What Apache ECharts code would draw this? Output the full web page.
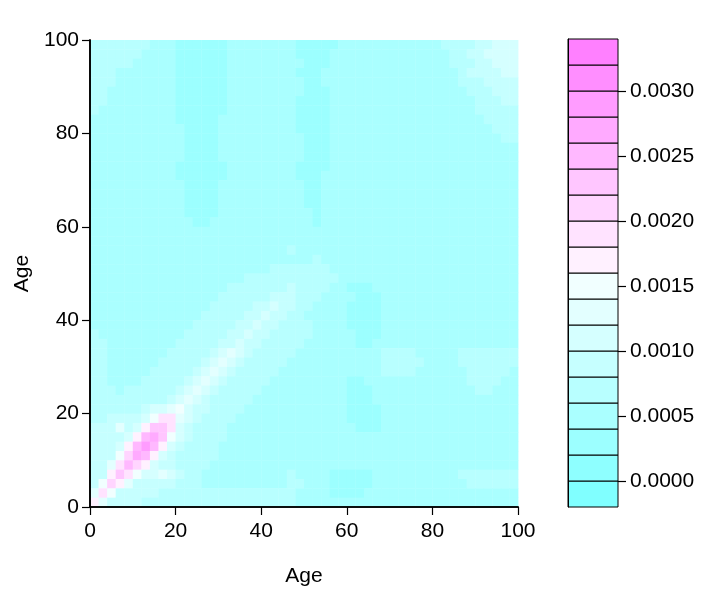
<!DOCTYPE html>
<html><head><meta charset="utf-8">
<script src="https://cdn.jsdelivr.net/npm/echarts@6/dist/echarts.min.js"></script>
<style>html,body{margin:0;padding:0;background:#fff}#chart{width:709px;height:590px}</style>
</head><body><div id="chart"></div>
<script>
// Age bands (lower edge, years) and width
const ageBandStarts = [0,2,4,6,8,10,12,14,16,18,20,22,24,26,28,30,32,34,36,38,40,42,44,46,48,50,52,54,56,58,60,62,64,66,68,70,72,74,76,78,80,82,84,86,88,90,92,94,96,98];
const ageBandWidth = 2;
// Contact values in units of 1e-5, rows listed from the oldest band (98-100) at top down to band 0-2
const valueUnit = 1e-5;
const contactRowsTopDown = [
[60,60,60,60,60,60,60,45,45,45, 38,38,35,35,35,35,45,45,45,45, 45,45,45,45,38,38,38,38,38,45, 45,45,45,45,45,45,45,45,50,50, 50,62,75,75,75,95,95,115,115,115],
[60,60,60,60,60,60,55,45,45,45, 38,35,35,35,35,35,45,45,45,45, 45,45,45,45,38,38,38,38,45,45, 45,45,45,45,45,45,45,45,45,48, 50,58,70,70,85,85,100,110,110,110],
[62,62,62,60,60,55,50,45,45,45, 35,35,35,35,35,38,45,45,45,45, 45,45,45,45,40,38,38,38,45,45, 45,45,45,45,45,45,45,45,45,45, 48,52,62,75,75,90,90,105,105,108],
[62,62,60,58,55,50,45,45,45,45, 38,35,35,35,35,38,45,45,45,45, 45,45,45,45,38,38,38,40,45,45, 45,45,45,45,45,45,45,45,45,45, 45,48,55,65,80,80,92,92,100,100],
[62,62,60,55,50,45,45,45,45,45, 38,35,35,35,35,38,45,45,45,45, 45,45,45,45,45,38,38,45,45,45, 45,45,45,45,45,45,45,45,45,45, 45,45,50,60,72,72,88,88,95,95],
[62,60,58,52,45,45,45,45,45,45, 38,35,35,35,35,38,45,45,45,45, 45,45,45,45,45,38,38,38,45,45, 45,45,45,45,45,45,45,45,45,45, 45,45,48,55,65,78,78,85,85,85],
[60,60,55,50,45,45,45,45,45,45, 38,35,35,35,35,38,45,45,45,45, 45,45,45,45,38,38,38,38,45,45, 45,45,45,45,45,45,45,45,45,45, 45,45,45,50,58,66,72,72,80,80],
[60,58,55,48,45,45,45,45,45,45, 38,35,35,35,35,38,45,45,45,45, 45,45,45,45,38,38,35,38,45,45, 45,45,45,45,45,45,45,45,45,45, 45,45,45,48,52,62,68,68,68,75],
[58,55,52,48,45,45,45,45,45,45, 38,35,35,35,35,40,45,45,45,45, 45,45,45,45,38,35,35,38,45,45, 45,45,45,45,45,45,45,45,45,45, 45,45,45,45,48,55,65,65,65,65],
[55,55,50,45,45,45,45,45,45,45, 40,35,35,35,35,40,45,45,45,45, 45,45,45,45,38,35,35,38,45,45, 45,45,45,45,45,45,45,45,45,45, 45,45,45,45,45,50,55,62,62,62],
[55,55,50,45,45,45,45,45,45,45, 40,35,35,35,35,40,45,45,45,45, 45,45,45,45,40,35,35,38,45,45, 45,45,45,45,45,45,45,45,45,45, 45,45,45,45,45,45,50,55,60,62],
[55,55,50,45,45,45,45,45,45,45, 40,35,35,35,35,40,45,45,45,45, 45,45,45,45,40,35,35,38,45,45, 45,45,45,45,45,45,45,45,45,45, 45,45,45,45,45,45,45,50,55,58],
[55,55,50,45,45,45,45,45,45,45, 40,35,35,35,35,40,45,45,45,45, 45,45,45,45,40,35,35,38,45,45, 45,45,45,45,45,45,45,45,45,45, 45,45,45,45,45,45,45,45,50,52],
[58,55,50,45,45,45,45,45,45,45, 38,35,35,35,35,38,45,45,45,45, 45,45,45,45,38,35,35,38,45,45, 45,45,45,45,45,45,45,45,45,45, 45,45,45,45,45,45,45,45,45,45],
[58,55,50,45,45,45,45,45,45,45, 38,35,35,35,35,38,45,45,45,45, 45,45,45,45,38,35,35,40,45,45, 45,45,45,45,45,45,45,45,45,45, 45,45,45,45,45,45,45,45,45,45],
[55,55,50,45,45,45,45,45,45,45, 40,35,35,35,35,40,45,45,45,45, 45,45,45,45,40,35,35,40,45,45, 45,45,45,45,45,45,45,45,45,45, 45,45,45,45,45,45,45,45,45,45],
[55,52,48,45,45,45,45,45,45,45, 40,35,35,35,35,40,45,45,45,45, 45,45,45,45,40,35,35,40,45,45, 45,45,45,45,45,45,45,45,45,45, 45,45,45,45,45,45,45,45,48,50],
[55,52,48,45,45,45,45,45,45,45, 40,35,35,35,38,40,45,45,45,45, 45,45,45,45,40,38,38,40,45,45, 45,45,45,45,45,45,45,45,45,45, 45,45,45,45,45,45,45,48,50,55],
[52,50,48,45,45,45,45,45,45,45, 40,38,35,35,38,40,45,45,45,45, 45,45,45,45,45,40,38,40,45,45, 45,45,45,45,45,45,45,45,45,45, 45,45,45,45,45,45,45,48,52,55],
[52,50,48,45,45,45,45,45,45,45, 42,40,38,38,40,42,45,45,45,45, 45,45,45,45,45,40,38,40,45,45, 45,45,45,45,45,45,45,45,45,45, 45,45,45,45,45,45,45,45,50,52],
[50,50,48,45,45,45,45,45,45,45, 45,45,45,45,45,45,45,45,45,45, 45,45,45,50,50,48,48,45,45,45, 45,45,45,45,45,45,45,45,45,45, 45,45,45,45,45,45,45,45,45,48],
[50,48,45,45,45,45,45,45,45,45, 45,45,45,45,45,45,45,45,45,45, 45,45,48,50,52,52,52,50,50,45, 45,45,45,45,45,45,45,45,45,45, 45,45,45,45,45,45,45,45,45,45],
[50,48,45,45,45,45,45,45,45,45, 45,45,45,45,45,45,45,45,48,50, 52,55,58,60,52,55,52,55,50,45, 45,45,45,45,45,45,45,45,45,45, 45,45,45,45,45,45,45,45,45,45],
[50,48,45,45,45,45,45,45,45,45, 45,45,45,45,45,45,45,45,45,50, 52,55,55,55,58,56,60,56,55,45, 45,45,45,45,45,45,45,45,45,45, 45,45,45,45,45,45,45,45,45,45],
[50,48,45,45,45,45,45,45,45,45, 45,45,45,45,45,45,45,45,52,55, 58,60,62,65,62,68,62,60,58,50, 45,45,45,45,45,45,45,45,45,45, 45,45,45,45,45,45,45,45,45,45],
[50,48,45,45,45,45,45,45,45,45, 45,45,45,45,45,45,55,58,60,62, 60,62,65,68,75,68,65,62,60,52, 45,45,45,45,45,45,45,45,45,45, 45,45,45,45,45,45,45,45,45,45],
[50,48,45,45,45,45,45,45,45,45, 45,45,45,45,45,55,60,62,62,60, 68,72,75,85,75,72,68,60,55,50, 38,38,38,45,45,45,45,45,45,45, 45,45,45,45,45,45,45,45,45,45],
[52,52,52,45,45,45,45,45,45,45, 45,45,45,45,55,62,62,62,65,68, 72,80,92,80,72,68,65,55,50,45, 45,38,38,38,45,45,45,45,45,45, 45,45,45,45,45,45,45,45,45,45],
[55,55,52,45,45,45,45,45,45,45, 45,45,45,55,62,62,62,65,68,80, 85,100,85,80,68,65,55,50,45,45, 38,38,38,38,45,45,45,45,45,45, 45,45,45,45,45,45,45,45,45,45],
[58,58,55,45,45,45,45,45,45,45, 45,45,55,62,62,62,65,75,80,88, 105,88,80,75,65,58,55,50,45,45, 38,38,38,38,45,45,45,45,45,45, 45,45,45,45,45,45,45,45,45,45],
[58,58,55,45,45,45,45,45,45,45, 45,55,62,62,62,65,75,80,92,108, 92,80,75,65,62,60,58,50,45,45, 38,38,38,38,45,45,45,45,45,45, 45,45,45,45,45,45,45,45,45,45],
[60,58,55,45,45,45,45,45,45,45, 55,62,62,62,65,75,88,95,112,95, 88,75,65,62,62,62,55,45,45,45, 45,38,38,38,45,45,45,45,45,45, 45,45,45,45,45,45,45,45,45,45],
[62,60,55,45,45,45,45,45,45,55, 62,62,62,65,75,88,98,115,98,88, 75,65,62,62,62,55,45,45,45,45, 45,38,38,45,45,45,45,45,45,45, 45,45,45,45,45,45,45,45,45,45],
[62,62,58,45,45,45,45,45,55,62, 62,62,65,75,88,102,122,102,88,75, 65,62,62,62,55,45,45,45,45,45, 45,45,45,45,62,62,62,62,45,45, 45,45,45,62,62,62,62,62,62,62],
[62,62,58,45,45,45,45,55,62,62, 62,65,75,88,105,125,105,88,75,65, 62,62,62,55,45,45,45,45,45,45, 45,45,45,45,62,62,62,62,62,45, 45,45,45,62,62,62,62,62,62,62],
[62,62,58,50,45,45,55,62,62,62, 65,75,88,105,125,105,88,75,65,62, 62,62,55,45,45,45,45,45,45,45, 45,45,45,45,62,62,62,62,45,45, 45,45,45,45,62,62,62,62,62,45],
[62,62,58,52,50,55,62,62,62,65, 75,88,108,128,108,88,75,65,62,62, 62,55,45,45,45,45,45,45,45,45, 38,38,45,45,45,45,45,45,45,45, 45,45,45,45,62,62,62,62,45,45],
[62,62,60,55,62,62,62,62,65,75, 88,110,128,110,88,75,65,62,62,62, 55,45,45,45,45,45,45,45,45,45, 38,38,38,45,45,45,45,45,45,45, 45,45,45,45,45,62,62,45,45,45],
[65,65,65,62,62,62,62,65,75,88, 115,132,110,88,75,65,62,62,62,55, 45,45,45,45,45,45,45,45,45,45, 38,38,38,45,45,45,45,45,45,45, 45,45,45,45,45,45,45,45,45,45],
[68,68,68,68,70,75,85,100,115,130, 140,115,95,80,65,62,62,62,55,45, 45,45,45,45,45,45,45,45,45,45, 38,38,38,38,45,45,45,45,45,45, 45,45,45,45,45,45,45,45,45,45],
[75,75,80,90,85,90,115,140,180,185, 130,100,90,75,62,62,62,55,45,45, 45,45,45,45,45,45,45,45,45,45, 38,38,38,38,45,45,45,45,45,45, 45,45,45,45,45,45,45,45,45,45],
[80,85,95,125,95,115,160,225,235,180, 115,90,75,62,62,62,55,45,45,45, 45,45,45,45,45,45,45,45,45,45, 45,38,38,38,45,45,45,45,45,45, 45,45,45,45,45,45,45,45,45,45],
[80,85,95,95,115,165,245,270,225,140, 100,80,70,62,62,60,55,45,45,45, 45,45,45,45,45,45,45,45,45,45, 45,45,45,45,45,45,45,45,45,45, 45,45,45,45,45,45,45,45,45,45],
[80,85,90,115,160,240,285,245,160,115, 85,75,65,62,62,58,45,45,45,45, 45,45,45,45,45,45,45,45,45,45, 45,45,45,45,45,45,45,45,45,45, 45,45,45,45,45,45,45,45,45,45],
[80,85,95,140,215,265,240,165,115,90, 75,65,60,62,60,55,45,45,45,45, 45,45,45,45,45,45,45,45,45,45, 45,45,45,45,45,45,45,45,45,45, 45,45,45,45,45,45,45,45,45,45],
[85,95,120,195,245,215,160,115,95,85, 75,68,60,60,55,45,45,45,45,45, 45,45,45,45,45,45,45,45,45,45, 45,45,45,45,45,45,45,45,45,45, 45,45,45,45,45,45,45,45,45,45],
[90,95,175,230,195,140,115,100,125,100, 80,68,60,55,45,45,45,45,45,45, 45,45,45,62,45,45,45,45,35,35, 35,35,35,45,45,45,45,45,45,45, 45,45,45,62,62,62,62,62,62,62],
[95,150,215,175,120,95,90,85,95,85, 75,68,60,55,55,55,50,50,45,45, 45,45,45,62,62,45,45,45,35,35, 35,35,35,45,45,45,45,45,45,45, 45,45,45,45,62,62,62,62,62,62],
[120,190,150,95,85,80,80,80,78,75, 72,70,65,65,65,65,65,65,65,65, 62,62,62,62,55,45,45,45,38,38, 38,38,45,45,45,45,45,45,45,45, 45,45,45,45,45,55,55,55,55,55],
[160,120,95,85,80,80,78,78,75,75, 72,72,68,68,68,68,68,65,65,65, 62,62,62,62,55,50,45,45,45,45, 45,45,45,45,45,45,45,45,45,45, 45,45,45,45,50,50,50,50,50,50]
];
// Colour levels (same 1e-5 units) and their colours
const levelEdges = [-20,0,20,40,60,80,100,120,140,160,180,200,220,240,260,280,300,320,340];
const levelColors = ['#80FFFF','#8EFFFF','#9CFFFF','#AAFFFF','#B8FFFF','#C6FFFF','#D5FFFF','#E3FFFF','#F1FFFF',
                     '#FFF1FF','#FFE3FF','#FFD5FF','#FFC6FF','#FFB8FF','#FFAAFF','#FF9CFF','#FF8EFF','#FF80FF'];
const axisTickValues = [0,20,40,60,80,100];
const colorbarTickValues = [0,50,100,150,200,250,300];
const axisTitle = 'Age';

const cells = [];
contactRowsTopDown.forEach((row, r) => {
  const y = ageBandStarts[ageBandStarts.length - 1 - r];
  row.forEach((v, c) => cells.push([ageBandStarts[c], y, v]));
});
const pieces = levelColors.map((color, i) => ({gte: levelEdges[i], lt: levelEdges[i + 1], color}));
const colorbarData = levelColors.map((c, i) => [levelEdges[i], levelEdges[i + 1], i]);

const font = 'Liberation Sans, Arial, Helvetica, sans-serif';
const black = '#000';
const fs = 21;
const chart = echarts.init(document.getElementById('chart'), null, {renderer: 'canvas'});
chart.setOption({
  animation: false,
  textStyle: {fontFamily: font, color: black},
  grid: [
    {left: 90, top: 40, width: 428, height: 467, outerBoundsMode: 'none', containLabel: false},
    {left: 568, top: 39, width: 50, height: 468, outerBoundsMode: 'none', containLabel: false},
    {left: 618, top: 39, width: 8, height: 468, outerBoundsMode: 'none', containLabel: false}
  ],
  visualMap: {type: 'piecewise', show: false, seriesIndex: 0, dimension: 2, pieces},
  xAxis: [
    {gridIndex: 0, type: 'value', min: axisTickValues[0], max: axisTickValues[axisTickValues.length - 1], interval: 20,
     z: 5, name: axisTitle, nameLocation: 'middle', nameGap: 59,
     nameTextStyle: {fontSize: fs, color: black, fontFamily: font},
     axisLine: {show: true, lineStyle: {color: black, width: 1.6}},
     axisTick: {show: true, inside: false, length: 8, lineStyle: {color: black, width: 1.2}},
     axisLabel: {fontSize: fs, color: black, margin: 14, fontFamily: font},
     splitLine: {show: false}},
    {gridIndex: 0, type: 'value', min: 0, max: 100, position: 'top', z: 5,
     axisLine: {show: true, lineStyle: {color: black, width: 1.6}},
     axisTick: {show: false}, axisLabel: {show: false}, splitLine: {show: false}},
    {gridIndex: 1, type: 'value', min: 0, max: 1, show: false, splitLine: {show: false}},
    {gridIndex: 2, type: 'value', min: 0, max: 1, show: false, splitLine: {show: false}}
  ],
  yAxis: [
    {gridIndex: 0, type: 'value', min: axisTickValues[0], max: axisTickValues[axisTickValues.length - 1], interval: 20,
     z: 5, name: axisTitle, nameLocation: 'middle', nameGap: 52, nameRotate: 90,
     nameTextStyle: {fontSize: fs, color: black, fontFamily: font},
     axisLine: {show: true, lineStyle: {color: black, width: 1.6}},
     axisTick: {show: true, inside: false, length: 8, lineStyle: {color: black, width: 1.2}},
     axisLabel: {fontSize: fs, color: black, margin: 11, fontFamily: font},
     splitLine: {show: false}},
    {gridIndex: 0, type: 'value', min: 0, max: 100, position: 'right', z: 5,
     axisLine: {show: true, lineStyle: {color: black, width: 1.6}},
     axisTick: {show: false}, axisLabel: {show: false}, splitLine: {show: false}},
    {gridIndex: 1, type: 'value', min: levelEdges[0], max: levelEdges[levelEdges.length - 1], position: 'right', z: 5,
     axisLine: {show: true, lineStyle: {color: black, width: 1}},
     axisTick: {show: false, customValues: colorbarTickValues},
     axisLabel: {show: true, fontSize: fs, color: black, margin: 12, fontFamily: font, customValues: colorbarTickValues,
                 formatter: v => (v * valueUnit).toFixed(4)},
     splitLine: {show: false}},
    {gridIndex: 2, type: 'value', min: levelEdges[0], max: levelEdges[levelEdges.length - 1], position: 'left',
     axisLine: {show: false}, axisTick: {show: false, customValues: colorbarTickValues},
     axisLabel: {show: false, customValues: colorbarTickValues},
     splitLine: {show: true, lineStyle: {color: black, width: 1.2}}}
  ],
  series: [
    {
      type: 'custom', xAxisIndex: 0, yAxisIndex: 0, data: cells, encode: {x: 0, y: 1},
      renderItem: (params, api) => {
        const x0 = api.value(0), y0 = api.value(1);
        const p0 = api.coord([x0, y0 + ageBandWidth]);
        const p1 = api.coord([x0 + ageBandWidth, y0]);
        return {type: 'rect', shape: {x: p0[0], y: p0[1], width: p1[0] - p0[0] + 0.4, height: p1[1] - p0[1] + 0.4},
                style: {fill: api.visual('color')}};
      }
    },
    {
      type: 'custom', xAxisIndex: 2, yAxisIndex: 2, data: colorbarData, encode: {y: [0, 1]},
      renderItem: (params, api) => {
        const lo = api.value(0), hi = api.value(1), idx = api.value(2);
        const p0 = api.coord([0, hi]);
        const p1 = api.coord([1, lo]);
        return {type: 'rect', shape: {x: p0[0], y: p0[1], width: p1[0] - p0[0], height: p1[1] - p0[1]},
                style: {fill: levelColors[idx], stroke: black, lineWidth: 1}};
      }
    }
  ]
});
</script>
</body></html>
